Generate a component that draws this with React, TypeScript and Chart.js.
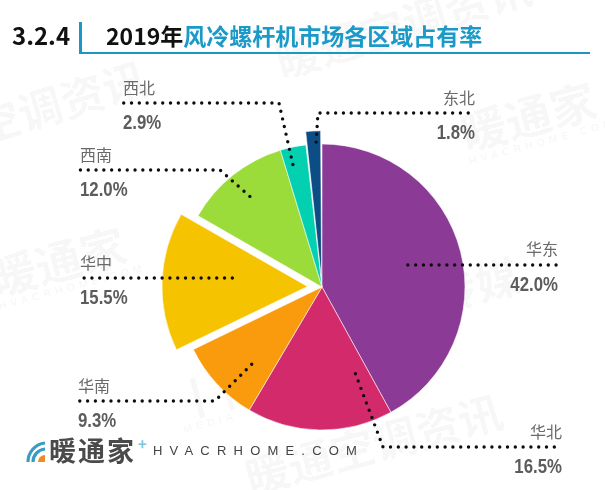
import React, { useEffect, useRef } from 'react';
import { Chart, registerables } from 'chart.js';

Chart.register(...registerables);

// ---- data ----
const regions = ['华东', '华北', '华南', '华中', '西南', '西北', '东北'];
const shares = [42.0, 16.5, 9.3, 15.5, 12.0, 2.9, 1.8];
const shareLabels = ['42.0%', '16.5%', '9.3%', '15.5%', '12.0%', '2.9%', '1.8%'];

// ---- styles / layout ----
const sliceColors = ['#8B3B95', '#D22A6A', '#F99B0D', '#F6C300', '#9BDC3A', '#03CFB1', '#0B4D84'];
const explode = [0, 0, 0, 58, 0, 0, 28];

type Leader = { t: number; r: number; elbow: [number, number] | null; endX: number; side: 'left' | 'right' };
const leaderLayout: Leader[] = [
  { t: 0.5, r: 0.62, elbow: null, endX: 558, side: 'right' },
  { t: 0.13, r: 0.65, elbow: [383, 447], endX: 562, side: 'right' },
  { t: 0.35, r: 0.73, elbow: [215, 401], endX: 78, side: 'left' },
  { t: 0.58, r: 0.52, elbow: null, endX: 80, side: 'left' },
  { t: 0.5, r: 0.81, elbow: [220, 170], endX: 80, side: 'left' },
  { t: 0.34, r: 0.88, elbow: [279, 103], endX: 123, side: 'left' },
  { t: 0.65, r: 0.925, elbow: [318, 113], endX: 475, side: 'right' },
];

const leaderPlugin = {
  id: 'leaders',
  afterDatasetsDraw(chart: any) {
    const ctx = chart.ctx as CanvasRenderingContext2D;
    const meta = chart.getDatasetMeta(0);
    meta.data.forEach((arc: any, i: number) => {
      const L = leaderLayout[i];
      const p = arc.getProps(['x', 'y', 'startAngle', 'endAngle', 'outerRadius'], true);
      const off = (arc.options.offset || 0) / 4;
      const half = (p.startAngle + p.endAngle) / 2;
      const fix = 1 - Math.sin(Math.min(Math.PI, p.endAngle - p.startAngle));
      const cx = p.x + Math.cos(half) * off;
      const cy = p.y + Math.sin(half) * off;
      const R = p.outerRadius + off * fix;
      const a = p.startAngle + (p.endAngle - p.startAngle) * L.t;
      const sx = cx + Math.cos(a) * R * L.r;
      const sy = cy + Math.sin(a) * R * L.r;
      const pts: [number, number][] = [[sx, sy]];
      let lineY = sy;
      if (L.elbow) {
        pts.push(L.elbow);
        lineY = L.elbow[1];
      }
      pts.push([L.endX, lineY]);

      ctx.save();
      ctx.strokeStyle = '#0d0d0d';
      ctx.lineWidth = 3.4;
      ctx.lineCap = 'round';
      ctx.setLineDash([0, 7.8]);
      ctx.beginPath();
      ctx.moveTo(pts[0][0], pts[0][1]);
      for (let k = 1; k < pts.length; k++) ctx.lineTo(pts[k][0], pts[k][1]);
      ctx.stroke();
      ctx.setLineDash([]);

      ctx.textAlign = L.side === 'left' ? 'left' : 'right';
      ctx.textBaseline = 'alphabetic';
      ctx.fillStyle = '#6a6a6a';
      ctx.font = '16px "Noto Sans CJK SC", sans-serif';
      ctx.fillText(regions[i], L.endX, lineY - 9.5);

      ctx.fillStyle = '#5c5c5c';
      ctx.font = 'bold 21px "Liberation Sans", "DejaVu Sans", sans-serif';
      ctx.translate(L.endX, lineY + 26);
      ctx.scale(0.8, 1);
      ctx.fillText(shareLabels[i], 0, 0);
      ctx.restore();
    });
  },
};

type WM = { text: string; x: number; y: number; size: number; rot: number; sub?: string };
const watermarks: WM[] = [
  { text: '暖通空调资讯', x: 270, y: 40, size: 44, rot: -17 },
  { text: '空调资讯', x: -30, y: 105, size: 44, rot: -17 },
  { text: '暖通家', x: 455, y: 110, size: 46, rot: -15, sub: 'HVACRHOME.COM' },
  { text: '暖通家', x: -15, y: 255, size: 46, rot: -15, sub: 'HVACRHOME.COM' },
  { text: '丨传媒', x: 385, y: 285, size: 44, rot: -15, sub: 'MEDIA' },
  { text: '丨传媒', x: 170, y: 380, size: 44, rot: -15, sub: 'MEDIA' },
  { text: '暖通空调资讯', x: 240, y: 455, size: 44, rot: -15 },
];

export default function App() {
  const ref = useRef<HTMLCanvasElement>(null);

  useEffect(() => {
    if (!ref.current) return;
    const chart = new Chart(ref.current, {
      type: 'pie',
      data: {
        labels: regions,
        datasets: [
          {
            data: shares,
            backgroundColor: sliceColors,
            borderColor: 'rgba(255,255,255,0.7)',
            borderWidth: 0.8,
            offset: explode,
          } as any,
        ],
      },
      options: {
        responsive: false,
        maintainAspectRatio: false,
        animation: false,
        events: [],
        radius: 143,
        layout: { padding: { left: 171, right: 132, top: 136, bottom: 52 } },
        plugins: { legend: { display: false }, tooltip: { enabled: false } },
      } as any,
      plugins: [leaderPlugin],
    });
    return () => chart.destroy();
  }, []);

  const cjk = '"Noto Sans CJK SC", "Noto Sans", sans-serif';

  return (
    <div
      style={{
        position: 'fixed',
        left: 0,
        top: 0,
        width: 605,
        height: 490,
        background: '#fff',
        overflow: 'hidden',
        fontFamily: cjk,
      }}
    >
      {watermarks.map((w, i) => (
        <div
          key={i}
          style={{
            position: 'absolute',
            left: w.x,
            top: w.y,
            transform: `rotate(${w.rot}deg)`,
            transformOrigin: 'left top',
            color: 'rgba(0,0,0,0.045)',
            fontWeight: 700,
            fontSize: w.size,
            lineHeight: 1,
            whiteSpace: 'nowrap',
          }}
        >
          {w.text}
          {w.sub && (
            <div style={{ fontSize: 11, letterSpacing: 4, fontFamily: 'Liberation Sans, sans-serif', marginTop: 2 }}>
              {w.sub}
            </div>
          )}
        </div>
      ))}

      <canvas ref={ref} width={605} height={490} style={{ position: 'absolute', left: 0, top: 0 }} />

      {/* header */}
      <div
        style={{
          position: 'absolute',
          left: 12,
          top: 22.5,
          fontSize: 24,
          lineHeight: 1,
          fontWeight: 700,
          color: '#111',
          whiteSpace: 'nowrap',
        }}
      >
        3.2.4
      </div>
      <div style={{ position: 'absolute', left: 78.5, top: 22, width: 3, height: 31, background: '#1B97C5' }} />
      <div style={{ position: 'absolute', left: 79, top: 51.5, width: 511, height: 2, background: '#1B97C5' }} />
      <div
        style={{
          position: 'absolute',
          left: 106,
          top: 23.5,
          fontSize: 23,
          lineHeight: 1,
          fontWeight: 700,
          whiteSpace: 'nowrap',
        }}
      >
        <span style={{ color: '#111' }}>2019年</span>
        <span style={{ color: '#1B9AC8' }}>风冷螺杆机市场各区域占有率</span>
      </div>

      {/* bottom logo */}
      <svg
        width={20}
        height={24}
        viewBox="0 0 20 24"
        style={{ position: 'absolute', left: 26, top: 439 }}
      >
        <path d="M2 23 A19 19 0 0 1 19 4" stroke="#3A9BC4" strokeWidth={3.2} fill="none" />
        <path d="M7 23 A13 13 0 0 1 19 10" stroke="#3A9BC4" strokeWidth={3.2} fill="none" />
        <path d="M12 23 A7 7 0 0 1 19 16 L19 23 Z" fill="#F08A24" />
      </svg>
      <div
        style={{
          position: 'absolute',
          left: 49,
          top: 436,
          fontSize: 27,
          lineHeight: 1,
          fontWeight: 700,
          color: '#4a4a4a',
          letterSpacing: 2,
          whiteSpace: 'nowrap',
        }}
      >
        暖通家
      </div>
      <div
        style={{
          position: 'absolute',
          left: 138,
          top: 436,
          fontSize: 15,
          lineHeight: 1,
          fontWeight: 700,
          color: '#7CC3DD',
        }}
      >
        +
      </div>
      <div
        style={{
          position: 'absolute',
          left: 153,
          top: 444,
          fontSize: 13,
          lineHeight: 1,
          color: '#444',
          letterSpacing: 7.2,
          fontFamily: '"Liberation Sans", sans-serif',
          whiteSpace: 'nowrap',
        }}
      >
        HVACRHOME.COM
      </div>
    </div>
  );
}
